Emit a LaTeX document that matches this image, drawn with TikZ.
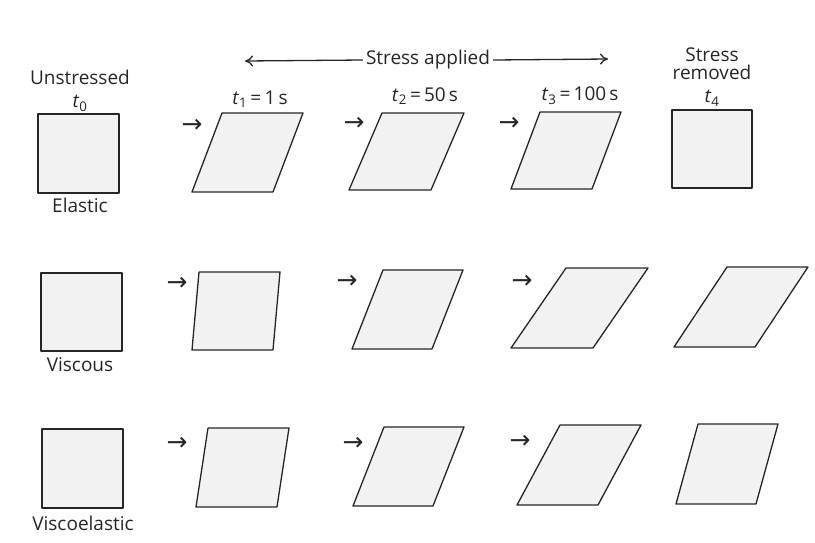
\documentclass[tikz,border=0pt]{standalone}
\usepackage{fontspec}
\setmainfont{Open Sans}
\newfontfamily\arrowfont{DejaVu Sans}
\usetikzlibrary{arrows.meta}
\newcommand{\tsub}[1]{\textit{t}\textsubscript{#1}}
\begin{document}
\begin{tikzpicture}[x=1pt,y=-1pt,line join=round,>={To[length=8pt,width=11pt]},
	cell/.style={draw=black!85,fill=black!5,line width=1.3pt},
	lbl/.style={font=\fontsize{19}{22}\selectfont,inner sep=0pt,text=black!85},
	push/.style={lbl,font=\arrowfont\fontsize{25}{25}\selectfont}]
	\useasboundingbox (0,0) rectangle (815,542);
	%Các ô: name/x/y/width/height/shift
	\foreach \name/\x/\y/\w/\h/\s in {e0/38/193/81/79/0,e1/192/192/81/79/30,e2/349/190/82/77/33,e3/511/189/81/77/29,e4/672/188/80/78/0,
		v0/41/351/81/78/0,v1/192/350/81/78/7,v2/352/349/80/79/31,v3/511/348/82/80/55,v4/674/347/81/80/53,
		c0/42/508/81/79/0,c1/196/507/81/79/12,c2/353/506/80/79/31,c3/517/505/81/80/43,c4/676/504/80/80/22}
	\filldraw[cell] (\x,\y) coordinate (\name) -- ++(\w,0) -- ++(\s,-\h) -- ++(-\w,0) -- cycle;
	%Các mũi tên nhỏ
	\foreach \name/\x/\y in {ea/192/126,eb/354/124,ec/509/124,va/177/284,vb/347/282,vc/522/282,ca/177/444,cb/353/444,cc/520/442}
	\node[push] (\name) at (\x,\y) {→};
	%Nhãn
	\node[lbl] (unstressed) at (80,77) {Unstressed};
	\node[lbl] (t0) at (80,103) {\tsub{0}};
	\node[lbl] (elastic) at (80,205) {Elastic};
	\node[lbl] (viscous) at (80,365) {Viscous};
	\node[lbl] (viscoelastic) at (83,523) {Viscoelastic};
	\node[lbl] (t1) at (260,99) {\tsub{1}\,=\,1\,s};
	\node[lbl] (t2) at (425,96) {\tsub{2}\,=\,50\,s};
	\node[lbl] (t3) at (580,96) {\tsub{3}\,=\,100\,s};
	\node[lbl] (t4) at (712,98) {\tsub{4}};
	\node[lbl,align=center,font=\fontsize{19}{18}\selectfont] (removed) at (712,64) {Stress\\removed};
	%Mũi tên trên
	\node[lbl,inner sep=3pt] (applied) at (428,60) {Stress applied};
	\coordinate (la) at (245,61);
	\coordinate (ra) at (608,59);
	\draw[->,line width=1.3pt,black!85] (applied.west) -- (la);
	\draw[->,line width=1.3pt,black!85] (applied.east) -- (ra);
\end{tikzpicture}
\end{document}
